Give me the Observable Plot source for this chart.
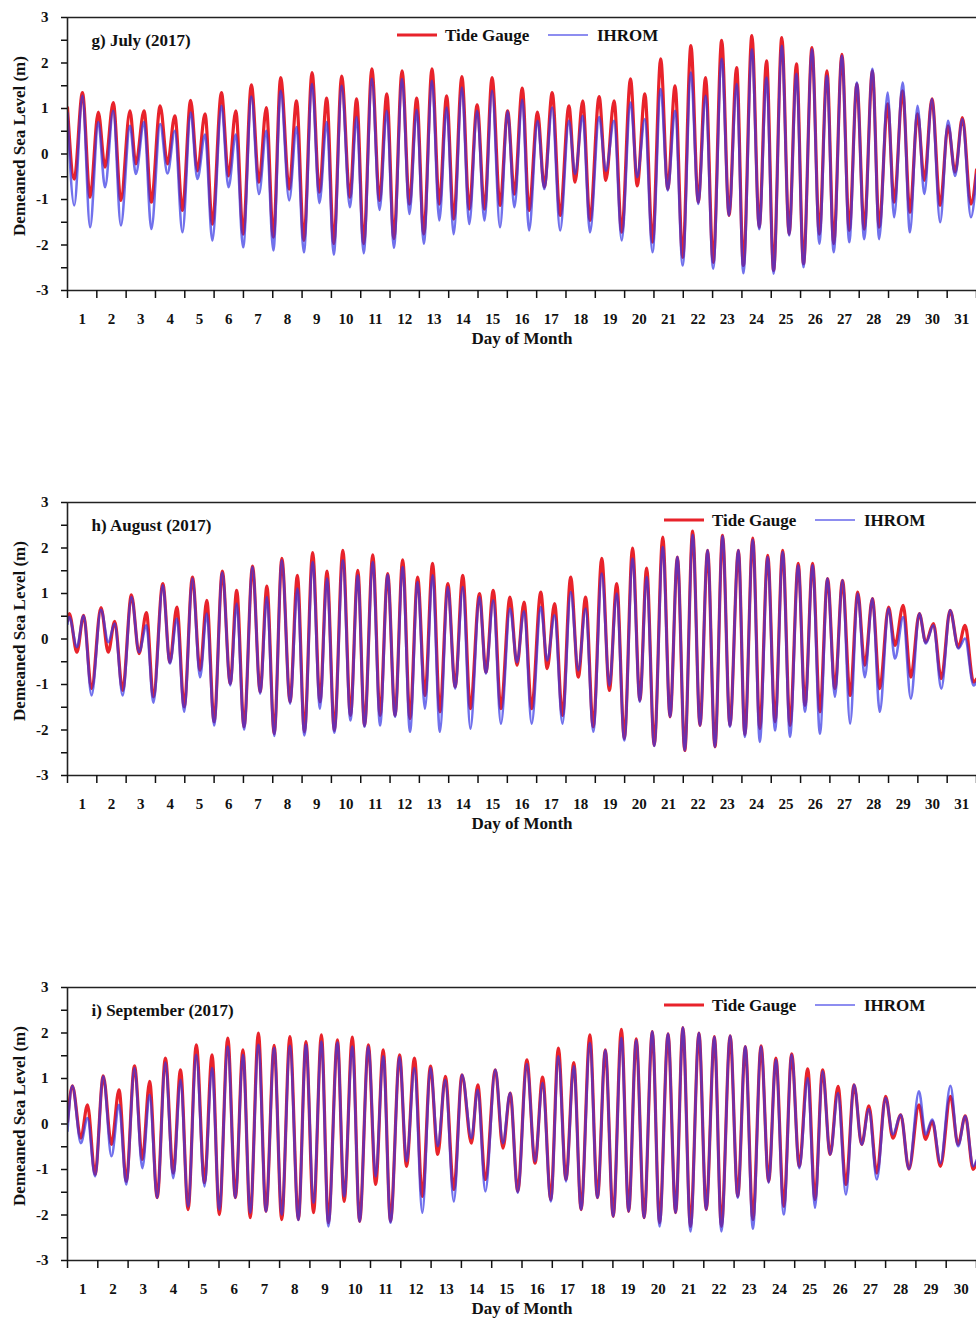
<!DOCTYPE html>
<html>
<head>
<meta charset="utf-8">
<script src="https://cdn.jsdelivr.net/npm/d3@7"></script>
<script src="https://cdn.jsdelivr.net/npm/@observablehq/plot@0.6"></script>
<style>
  html, body { margin: 0; padding: 0; background: #fff; }
  #wrap { position: relative; width: 976px; height: 1320px; overflow: hidden; background: #fff; }
  .panel { position: absolute; left: 0; width: 976px; }
  .legend { position: absolute; left: 0; top: 0; pointer-events: none; }
  .legend text { font-family: "Liberation Serif", "Times New Roman", serif; font-weight: bold; font-size: 17px; fill: #111; }
</style>
</head>
<body>
<div id="wrap"></div>
<script>
// ---------- Data ----------
// time: days since 00:00 on the 1st of the month; values in metres (tidal highs and lows)
const yTicks = [-3, -2.5, -2, -1.5, -1, -0.5, 0, 0.5, 1, 1.5, 2, 2.5, 3];

const julyTime = [0.00,0.23,0.51,0.77,1.05,1.28,1.56,1.82,2.13,2.33,2.61,2.86,3.16,3.41,3.66,3.92,4.20,4.43,4.69,4.94,5.25,5.49,5.74,5.99,6.27,6.53,6.78,7.02,7.27,7.56,7.81,8.06,8.34,8.59,8.84,9.08,9.35,9.63,9.86,10.10,10.38,10.64,10.89,11.13,11.41,11.66,11.91,12.15,12.43,12.68,12.93,13.17,13.45,13.70,13.97,14.22,14.48,14.75,15.01,15.24,15.51,15.74,16.03,16.26,16.53,16.80,17.10,17.31,17.57,17.82,18.13,18.36,18.64,18.90,19.20,19.43,19.69,19.95,20.23,20.47,20.72,20.98,21.26,21.51,21.76,22.02,22.31,22.56,22.82,23.05,23.34,23.59,23.84,24.08,24.36,24.61,24.86,25.10,25.39,25.64,25.90,26.13,26.41,26.66,26.92,27.17,27.45,27.68,27.97,28.19,28.48,28.73,28.99,29.22,29.48,29.76,30.03,30.27,30.52,30.81,31.00];
const julyTideGauge = [1.02,-0.55,1.35,-0.95,0.92,-0.29,1.13,-1.02,0.95,-0.22,0.95,-1.06,1.06,-0.22,0.84,-1.24,1.18,-0.37,0.88,-1.54,1.35,-0.48,0.95,-1.76,1.52,-0.62,1.02,-1.83,1.68,-0.77,1.17,-1.90,1.79,-0.84,1.23,-1.97,1.71,-0.95,1.21,-1.97,1.87,-1.02,1.32,-1.86,1.83,-1.10,1.23,-1.76,1.87,-1.10,1.28,-1.43,1.70,-1.21,1.08,-1.21,1.68,-1.13,0.95,-0.88,1.45,-1.24,0.92,-0.73,1.35,-1.35,1.06,-0.62,1.17,-1.46,1.26,-0.58,1.17,-1.72,1.65,-0.70,1.32,-1.94,2.09,-0.77,1.50,-2.27,2.38,-1.06,1.68,-2.38,2.50,-1.35,1.90,-2.45,2.60,-1.61,2.05,-2.56,2.56,-1.76,1.98,-2.41,2.34,-1.76,1.83,-1.97,2.19,-1.68,1.54,-1.65,1.83,-1.61,1.10,-1.06,1.39,-1.28,0.88,-0.58,1.21,-1.13,0.62,-0.40,0.80,-1.10,-0.35];
const julyIHROM = [0.90,-1.13,1.28,-1.61,0.70,-0.73,0.95,-1.57,0.62,-0.44,0.70,-1.65,0.66,-0.43,0.51,-1.72,0.91,-0.55,0.43,-1.90,1.06,-0.73,0.43,-2.05,1.26,-0.88,0.51,-2.12,1.39,-1.02,0.59,-2.16,1.54,-1.08,0.70,-2.21,1.50,-1.17,0.81,-2.18,1.65,-1.23,0.95,-2.06,1.65,-1.32,0.97,-1.97,1.61,-1.46,1.02,-1.76,1.46,-1.54,0.95,-1.46,1.39,-1.61,0.94,-1.17,1.19,-1.68,0.73,-0.77,1.02,-1.68,0.73,-0.44,0.84,-1.72,0.81,-0.37,0.73,-1.90,1.13,-0.51,0.77,-2.16,1.43,-0.80,0.95,-2.45,1.79,-1.10,1.28,-2.52,2.09,-1.35,1.54,-2.62,2.30,-1.65,1.68,-2.63,2.38,-1.79,1.76,-2.49,2.30,-1.97,1.72,-2.16,2.16,-1.94,1.57,-1.87,1.87,-1.87,1.35,-1.39,1.57,-1.72,1.06,-0.88,1.21,-1.50,0.73,-0.48,0.77,-1.39,-0.45];

const augustTime = [0.00,0.06,0.32,0.55,0.82,1.14,1.39,1.61,1.88,2.18,2.44,2.69,2.93,3.25,3.49,3.73,3.98,4.26,4.52,4.75,5.00,5.28,5.55,5.77,6.02,6.31,6.57,6.80,7.05,7.31,7.59,7.84,8.08,8.36,8.61,8.85,9.10,9.39,9.65,9.90,10.13,10.41,10.66,10.92,11.17,11.43,11.68,11.94,12.19,12.45,12.70,12.97,13.22,13.48,13.74,14.05,14.27,14.52,14.78,15.09,15.33,15.57,15.83,16.14,16.36,16.61,16.88,17.16,17.42,17.67,17.93,18.22,18.48,18.73,18.99,19.27,19.52,19.75,20.01,20.30,20.55,20.80,21.05,21.32,21.57,21.83,22.08,22.34,22.59,22.88,23.10,23.37,23.61,23.88,24.13,24.39,24.64,24.92,25.15,25.41,25.66,25.92,26.17,26.43,26.69,26.95,27.19,27.45,27.70,28.00,28.22,28.50,28.76,29.05,29.27,29.53,29.80,30.10,30.38,30.61,30.90,31.00];
const augustTideGauge = [0.40,0.56,-0.29,0.52,-1.09,0.69,-0.29,0.39,-1.13,0.97,-0.32,0.58,-1.27,1.22,-0.51,0.70,-1.49,1.36,-0.69,0.85,-1.82,1.49,-0.98,1.07,-1.93,1.60,-1.16,1.16,-2.08,1.77,-1.38,1.40,-2.04,1.90,-1.38,1.49,-2.01,1.95,-1.68,1.51,-1.90,1.85,-1.68,1.44,-1.68,1.74,-1.75,1.36,-1.24,1.66,-1.60,1.22,-1.05,1.40,-1.53,1.00,-0.73,1.07,-1.53,0.92,-0.58,0.81,-1.53,1.03,-0.65,0.78,-1.68,1.36,-0.84,0.92,-1.93,1.77,-1.13,1.22,-2.19,2.00,-1.35,1.56,-2.34,2.24,-1.71,1.80,-2.45,2.37,-1.90,1.95,-2.37,2.28,-1.90,1.95,-2.10,2.22,-1.97,1.84,-1.82,1.95,-1.90,1.66,-1.46,1.66,-1.60,1.33,-1.09,1.29,-1.24,1.03,-0.58,0.89,-1.09,0.70,-0.14,0.74,-0.84,0.56,-0.07,0.34,-0.87,0.63,-0.18,0.30,-0.95,-0.88];
const augustIHROM = [0.33,0.48,-0.18,0.51,-1.24,0.65,-0.07,0.34,-1.24,0.92,-0.29,0.30,-1.40,1.18,-0.54,0.45,-1.60,1.33,-0.84,0.56,-1.90,1.46,-1.02,0.78,-1.99,1.58,-1.20,0.92,-2.13,1.73,-1.42,1.11,-2.12,1.69,-1.53,1.33,-2.06,1.73,-1.79,1.40,-1.93,1.69,-1.90,1.41,-1.71,1.58,-2.04,1.25,-1.53,1.40,-2.04,1.14,-1.09,1.14,-1.97,0.92,-0.76,0.85,-1.86,0.67,-0.51,0.61,-1.86,0.70,-0.47,0.52,-1.86,1.03,-0.69,0.67,-2.04,1.44,-1.02,1.00,-2.23,1.77,-1.38,1.36,-2.35,2.02,-1.71,1.80,-2.45,2.29,-1.90,1.95,-2.37,2.26,-1.93,1.95,-2.15,2.18,-2.26,1.80,-2.01,1.91,-2.15,1.62,-1.60,1.62,-2.08,1.33,-1.27,1.29,-1.86,1.00,-0.84,0.89,-1.60,0.67,-0.43,0.48,-1.31,0.56,-0.10,0.30,-1.09,0.63,-0.21,0.01,-1.02,-0.95];

const septemberTime = [0.00,0.16,0.44,0.66,0.91,1.18,1.45,1.70,1.94,2.21,2.47,2.71,2.96,3.23,3.49,3.73,3.98,4.25,4.52,4.77,5.01,5.29,5.54,5.79,6.03,6.30,6.55,6.82,7.07,7.34,7.62,7.87,8.12,8.38,8.61,8.91,9.13,9.40,9.64,9.93,10.17,10.42,10.66,10.96,11.19,11.45,11.71,11.98,12.22,12.47,12.75,13.02,13.33,13.54,13.79,14.12,14.37,14.61,14.86,15.16,15.43,15.68,15.95,16.20,16.45,16.71,16.95,17.24,17.49,17.75,18.01,18.28,18.52,18.77,19.03,19.30,19.54,19.82,20.07,20.31,20.56,20.84,21.08,21.35,21.58,21.87,22.12,22.37,22.62,22.89,23.14,23.38,23.64,23.90,24.15,24.43,24.67,24.92,25.17,25.43,25.69,25.96,26.21,26.45,26.71,27.00,27.24,27.50,27.77,28.10,28.32,28.54,28.81,29.14,29.39,29.63,29.89,30.00];
const septemberTideGauge = [0.05,0.84,-0.31,0.42,-1.11,1.06,-0.45,0.75,-1.26,1.28,-0.78,0.94,-1.62,1.45,-1.08,1.19,-1.88,1.74,-1.29,1.52,-1.99,1.89,-1.62,1.63,-2.06,2.00,-1.92,1.73,-2.10,1.92,-2.10,1.81,-1.95,1.96,-2.17,1.85,-1.70,1.91,-2.14,1.74,-1.33,1.63,-2.14,1.52,-0.93,1.45,-1.59,1.27,-0.67,1.05,-1.44,1.08,-0.42,0.86,-1.22,1.19,-0.53,0.68,-1.48,1.41,-0.86,1.03,-1.66,1.67,-1.22,1.35,-1.88,1.96,-1.62,1.63,-2.03,2.08,-1.92,1.87,-2.06,2.03,-2.17,1.98,-1.95,2.12,-2.25,2.00,-1.88,1.92,-2.25,1.94,-1.59,1.70,-2.10,1.72,-1.26,1.45,-1.81,1.54,-0.93,1.21,-1.66,1.19,-0.67,0.83,-1.33,0.86,-0.45,0.40,-1.08,0.61,-0.31,0.20,-0.99,0.42,-0.34,0.06,-0.93,0.61,-0.45,0.18,-1.00,-0.85];
const septemberIHROM = [-0.15,0.84,-0.42,0.13,-1.15,1.05,-0.71,0.42,-1.33,1.23,-0.97,0.64,-1.62,1.35,-1.19,0.97,-1.81,1.52,-1.37,1.23,-1.88,1.70,-1.62,1.52,-1.95,1.74,-1.92,1.67,-1.99,1.72,-2.11,1.74,-1.73,1.81,-2.25,1.79,-1.59,1.70,-2.14,1.70,-1.15,1.49,-2.17,1.47,-0.82,1.23,-1.95,1.23,-0.49,0.97,-1.70,1.08,-0.31,0.75,-1.48,1.19,-0.42,0.68,-1.51,1.32,-0.82,0.90,-1.70,1.49,-1.26,1.27,-1.88,1.78,-1.62,1.62,-2.03,1.89,-1.92,1.84,-2.06,2.03,-2.25,1.98,-1.95,2.12,-2.36,2.00,-1.88,1.91,-2.36,1.94,-1.62,1.70,-2.30,1.70,-1.29,1.41,-1.99,1.52,-0.97,1.01,-1.84,1.16,-0.67,0.68,-1.55,0.86,-0.45,0.33,-1.22,0.57,-0.23,0.20,-0.99,0.72,-0.23,0.10,-0.86,0.84,-0.49,0.17,-0.93,-0.80];

const panels = [
  {title: "g) July (2017)", days: 31, time: julyTime, tg: julyTideGauge, ih: julyIHROM, top: 0, height: 485, legendX: 397},
  {title: "h) August (2017)", days: 31, time: augustTime, tg: augustTideGauge, ih: augustIHROM, top: 485, height: 485, legendX: 664},
  {title: "i) September (2017)", days: 30, time: septemberTime, tg: septemberTideGauge, ih: septemberIHROM, top: 970, height: 350, legendX: 664}
];

const RED = "#e8232b";
const BLUE = "#3434e4";
const FONT = "'Liberation Serif', 'Times New Roman', serif";

function makePanel(cfg) {
  const rows = cfg.time.map((t, i) => ({t, tg: cfg.tg[i], ih: cfg.ih[i]}));
  const boundaries = d3.range(0, cfg.days + 1);
  const centers = d3.range(0, cfg.days).map(d => d + 0.5);
  return Plot.plot({
    width: 976,
    height: cfg.height,
    marginLeft: 67,
    marginRight: 0,
    marginTop: 17,
    marginBottom: cfg.height - 17 - 273,
    x: {domain: [0, cfg.days]},
    y: {domain: [-3, 3]},
    style: {fontFamily: FONT, fontWeight: "bold", fontSize: "15px", background: "white", color: "#111", overflow: "visible"},
    marks: [
      Plot.line(rows, {x: "t", y: "tg", stroke: RED, strokeWidth: 3.2, curve: "monotone-x", clip: true}),
      Plot.line(rows, {x: "t", y: "ih", stroke: BLUE, strokeWidth: 2.6, strokeOpacity: 0.7, curve: "monotone-x", clip: true}),
      Plot.ruleY([-3, 3], {stroke: "#222", strokeWidth: 1.6}),
      Plot.ruleX([0], {stroke: "#222", strokeWidth: 1.6}),
      Plot.axisY({ticks: yTicks, tickSize: 6, tickPadding: 13, strokeWidth: 1.5,
        tickFormat: d => Number.isInteger(d) ? String(d) : "", label: null}),
      Plot.axisX({ticks: boundaries, tickSize: 8, strokeWidth: 1.5, tickFormat: () => "", label: null}),
      Plot.axisX({ticks: centers, tickSize: 0, tickPadding: 23, tickFormat: d => String(Math.floor(d) + 1), label: null}),
      Plot.text([cfg.title], {frameAnchor: "top-left", dx: 24, dy: 23, textAnchor: "start", lineAnchor: "middle", fontSize: 17, fontWeight: "bold"}),
      Plot.text(["Day of Month"], {frameAnchor: "bottom", dy: 48, lineAnchor: "middle", fontSize: 17, fontWeight: "bold"}),
      Plot.text(["Demeaned Sea Level (m)"], {frameAnchor: "left", dx: -48, dy: -8, rotate: -90, textAnchor: "middle", lineAnchor: "middle", fontSize: 17, fontWeight: "bold"})
    ]
  });
}

function makeLegend(x0, y) {
  const ns = "http://www.w3.org/2000/svg";
  const svg = document.createElementNS(ns, "svg");
  svg.setAttribute("width", 976);
  svg.setAttribute("height", 60);
  svg.setAttribute("class", "legend");
  const items = [
    {label: "Tide Gauge", color: RED, w: 2.8, op: 1, lx: 0, tx: 48},
    {label: "IHROM", color: BLUE, w: 1.6, op: 0.75, lx: 151, tx: 200}
  ];
  for (const it of items) {
    const l = document.createElementNS(ns, "line");
    l.setAttribute("x1", x0 + it.lx);
    l.setAttribute("x2", x0 + it.lx + 40);
    l.setAttribute("y1", y);
    l.setAttribute("y2", y);
    l.setAttribute("stroke", it.color);
    l.setAttribute("stroke-width", it.w);
    l.setAttribute("stroke-opacity", it.op);
    svg.appendChild(l);
    const t = document.createElementNS(ns, "text");
    t.setAttribute("x", x0 + it.tx);
    t.setAttribute("y", y);
    t.setAttribute("dy", "0.35em");
    t.textContent = it.label;
    svg.appendChild(t);
  }
  return svg;
}

const wrap = document.getElementById("wrap");
for (const cfg of panels) {
  const div = document.createElement("div");
  div.className = "panel";
  div.style.top = cfg.top + "px";
  div.style.height = cfg.height + "px";
  div.appendChild(makePanel(cfg));
  div.appendChild(makeLegend(cfg.legendX, 35));
  wrap.appendChild(div);
}
</script>
</body>
</html>
